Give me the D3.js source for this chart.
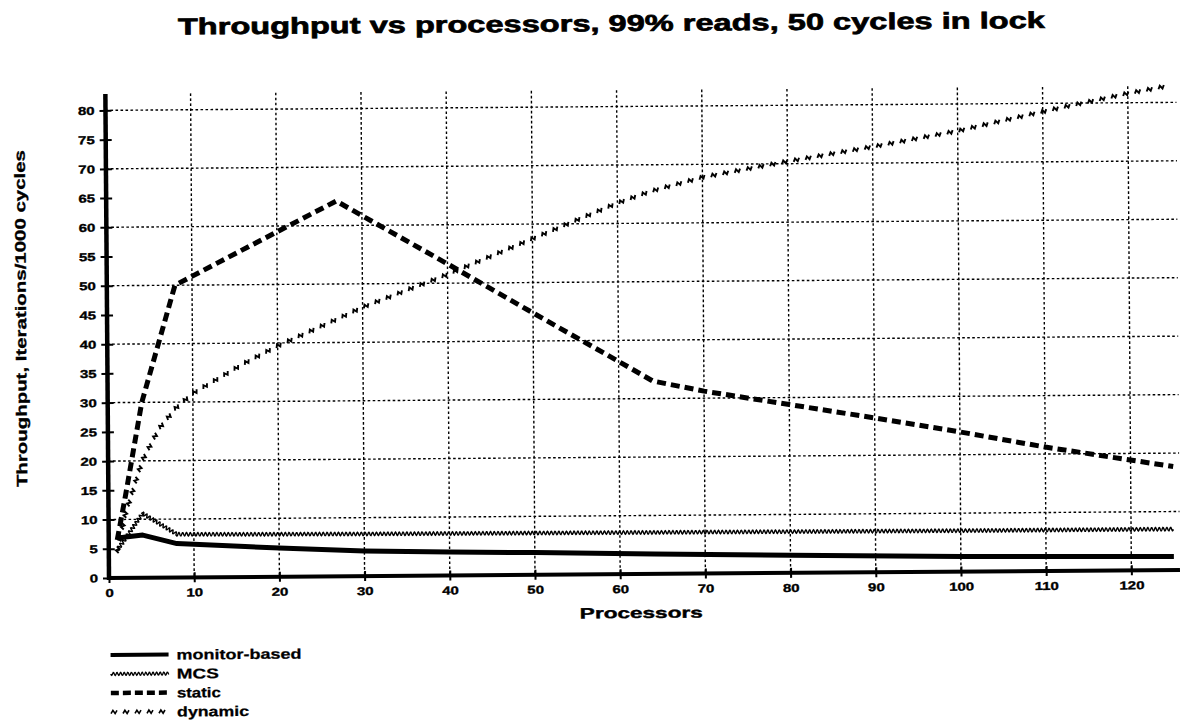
<!DOCTYPE html>
<html>
<head>
<meta charset="utf-8">
<script src="https://cdn.jsdelivr.net/npm/d3@7/dist/d3.min.js"></script>
<style>
  html, body { margin: 0; padding: 0; background: #fff; }
  svg { display: block; }
  text { font-family: "Liberation Sans", Arial, Helvetica, sans-serif; font-weight: bold; fill: #000; }
</style>
</head>
<body>
<svg id="chart" width="1180" height="726"></svg>
<script>
// ---------------- data ----------------
const titleText = "Throughput vs processors, 99% reads, 50 cycles in lock";
const xLabel = "Processors";
const yLabel = "Throughput, Iterations/1000 cycles";
const xTicks = [0, 10, 20, 30, 40, 50, 60, 70, 80, 90, 100, 110, 120];
const yTicks = [0, 5, 10, 15, 20, 25, 30, 35, 40, 45, 50, 55, 60, 65, 70, 75, 80];
const gridX = [10, 20, 30, 40, 50, 60, 70, 80, 90, 100, 110, 120];
const gridY = [10, 20, 30, 40, 50, 60, 70, 80];
const seriesNames = ["monitor-based", "MCS", "static", "dynamic"];

const monitorProcs = [1, 2, 4, 8, 16, 20, 30, 40, 50, 64, 80, 100, 125];
const monitorVals  = [6.8, 7.0, 7.3, 5.8, 5.2, 4.9, 4.3, 4.0, 3.8, 3.4, 3.0, 2.6, 2.3];

const mcsProcs = [1, 2, 4, 8, 16, 32, 64, 100, 125];
const mcsVals  = [4.8, 6.8, 11.0, 7.4, 7.3, 7.2, 7.1, 7.0, 7.0];

const staticProcs = [1, 2, 4, 8, 16, 27, 32, 40, 50, 60, 64, 70, 80, 90, 100, 110, 125];
const staticVals  = [6.5, 14, 30, 50, 56, 64.2, 60, 53.3, 44.8, 36.4, 33.0, 31.2, 28.8, 26.4, 23.9, 21.2, 17.7];

const dynamicProcs = [1, 2, 4, 6, 8, 10, 16, 20, 27, 30, 40, 50, 60, 64, 70, 80, 90, 100, 110, 120, 125];
const dynamicVals  = [4.5, 11, 20, 25.5, 29, 31.5, 36.5, 39.5, 44, 46, 51.5, 57.5, 63.5, 65.5, 67.8, 70.4, 72.8, 75.4, 78.6, 81.6, 82.9];

// ---------------- setup ----------------
const svg = d3.select("#chart");
svg.append("rect").attr("width", 1180).attr("height", 726).attr("fill", "#fff");

const x = d3.scaleLinear().domain([0, 125]).range([109, 1174]);
const y = d3.scaleLinear().domain([0, 82.8]).range([578, 94]);

// the scanned page is slightly rotated
const root = svg.append("g").attr("transform", "rotate(-0.43, 109, 578)");

// ---------------- grid ----------------
const grid = root.append("g");
grid.selectAll("line.gx").data(gridX).join("line")
  .attr("x1", d => x(d)).attr("x2", d => x(d))
  .attr("y1", y(82.8)).attr("y2", y(0))
  .attr("stroke", "#000").attr("stroke-width", 1.4).attr("stroke-dasharray", "2.6,2.4");
grid.selectAll("line.gy").data(gridY).join("line")
  .attr("x1", x(0)).attr("x2", 1180)
  .attr("y1", d => y(d)).attr("y2", d => y(d))
  .attr("stroke", "#000").attr("stroke-width", 1.4).attr("stroke-dasharray", "2.6,2.4");

// ---------------- axes ----------------
const sx = 1.3;
const xAxis = root.append("g").attr("transform", `translate(0,${y(0)})`)
  .call(d3.axisBottom(x).tickValues(xTicks).tickSize(5).tickSizeOuter(0).tickFormat(d3.format("d")));
xAxis.select(".domain").remove();
xAxis.selectAll(".tick line").attr("y1", -5).attr("y2", 5).attr("stroke", "#000").attr("stroke-width", 2);
xAxis.selectAll(".tick text")
  .attr("y", 19).attr("dy", 0).attr("x", 0)
  .attr("transform", `scale(${sx},1)`)
  .style("font-size", "11.5px").style("font-weight", "bold")
  .attr("fill", "#000").attr("stroke", "#000").attr("stroke-width", 0.35);
root.append("line").attr("x1", x(0) - 2).attr("x2", 1180)
  .attr("y1", y(0)).attr("y2", y(0)).attr("stroke", "#000").attr("stroke-width", 4);

const yAxis = root.append("g").attr("transform", `translate(${x(0)},0)`)
  .call(d3.axisLeft(y).tickValues(yTicks).tickSize(6).tickSizeOuter(0).tickFormat(d3.format("d")));
yAxis.select(".domain").remove();
yAxis.selectAll(".tick line").attr("x1", 6).attr("x2", -6).attr("stroke", "#000").attr("stroke-width", 2);
yAxis.selectAll(".tick text")
  .attr("x", -11 / sx).attr("dy", "0.34em")
  .attr("transform", `scale(${sx},1)`)
  .style("font-size", "11.5px").style("font-weight", "bold")
  .attr("fill", "#000").attr("stroke", "#000").attr("stroke-width", 0.35);
root.append("line").attr("x1", x(0)).attr("x2", x(0))
  .attr("y1", y(82.8)).attr("y2", y(0) + 2).attr("stroke", "#000").attr("stroke-width", 4.5);

// ---------------- helpers ----------------
function toPts(xs, vs) { return xs.map((p, i) => [x(p), y(vs[i])]); }

function wavyPath(pts, amp, period) {
  let segs = [], total = 0;
  for (let i = 1; i < pts.length; i++) {
    const dx = pts[i][0] - pts[i-1][0], dy = pts[i][1] - pts[i-1][1];
    const len = Math.hypot(dx, dy);
    segs.push({p: pts[i-1], dx, dy, len, start: total});
    total += len;
  }
  const out = [];
  const step = 0.5;
  let si = 0;
  for (let s = 0; s <= total; s += step) {
    while (si < segs.length - 1 && s > segs[si].start + segs[si].len) si++;
    const sg = segs[si];
    const t = sg.len ? (s - sg.start) / sg.len : 0;
    const ux = sg.dx / sg.len, uy = sg.dy / sg.len;
    const off = amp * Math.sin(2 * Math.PI * s / period);
    out.push([sg.p[0] + sg.dx * t - uy * off, sg.p[1] + sg.dy * t + ux * off]);
  }
  return "M" + out.map(p => p[0].toFixed(2) + "," + p[1].toFixed(2)).join("L");
}

function samplesAlong(pts, spacing, offset) {
  let res = [], acc = offset;
  for (let i = 1; i < pts.length; i++) {
    const dx = pts[i][0] - pts[i-1][0], dy = pts[i][1] - pts[i-1][1];
    const len = Math.hypot(dx, dy);
    let d = acc;
    while (d <= len) {
      res.push({x: pts[i-1][0] + dx * d / len, y: pts[i-1][1] + dy * d / len, a: Math.atan2(dy, dx) * 180 / Math.PI});
      d += spacing;
    }
    acc = d - len;
  }
  return res;
}
const markPath = "M-3,1.6L-1.1,-1.6L1.1,1.6L3,-1.6";

const line = d3.line().x(d => x(d[0])).y(d => y(d[1]));

// ---------------- series ----------------
const plot = root.append("g");

// monitor-based : thick solid
plot.append("path")
  .datum(monitorProcs.map((p, i) => [p, monitorVals[i]]))
  .attr("d", line).attr("fill", "none").attr("stroke", "#000")
  .attr("stroke-width", 5).attr("stroke-linejoin", "round");

// MCS : wavy
plot.append("path")
  .attr("d", wavyPath(toPts(mcsProcs, mcsVals), 1.7, 3.8))
  .attr("fill", "none").attr("stroke", "#000").attr("stroke-width", 1.4);

// static : thick dashes
plot.append("path")
  .datum(staticProcs.map((p, i) => [p, staticVals[i]]))
  .attr("d", line).attr("fill", "none").attr("stroke", "#000")
  .attr("stroke-width", 5).attr("stroke-dasharray", "9,5").attr("stroke-linejoin", "round");

// dynamic : small zigzag marks
const dynMarks = samplesAlong(toPts(dynamicProcs, dynamicVals), 12, 2);
plot.selectAll("path.dm").data(dynMarks).join("path")
  .attr("d", markPath)
  .attr("transform", d => `translate(${d.x},${d.y}) rotate(${d.a})`)
  .attr("fill", "none").attr("stroke", "#000").attr("stroke-width", 1.9);

// ---------------- titles ----------------
root.append("text").attr("x", 182).attr("y", 35)
  .attr("textLength", 867).attr("lengthAdjust", "spacingAndGlyphs")
  .attr("stroke", "#000").attr("stroke-width", 0.7)
  .style("font-size", "23px").text(titleText);

root.append("text").attr("transform", "translate(28,318) rotate(-90)")
  .attr("text-anchor", "middle").attr("textLength", 337).attr("lengthAdjust", "spacingAndGlyphs")
  .attr("stroke", "#000").attr("stroke-width", 0.3)
  .style("font-size", "15px").text(yLabel);

root.append("text").attr("x", 641).attr("y", 622)
  .attr("text-anchor", "middle").attr("textLength", 123).attr("lengthAdjust", "spacingAndGlyphs")
  .attr("stroke", "#000").attr("stroke-width", 0.4)
  .style("font-size", "15px").text(xLabel);

// ---------------- legend ----------------
const leg = root.append("g");
const legY = [655, 674, 693, 712];
const lx0 = 110, lx1 = 168;
leg.append("line").attr("x1", lx0).attr("x2", lx1).attr("y1", legY[0]).attr("y2", legY[0])
  .attr("stroke", "#000").attr("stroke-width", 4);
leg.append("path").attr("d", wavyPath([[lx0, legY[1]], [lx1, legY[1]]], 1.5, 3.6))
  .attr("fill", "none").attr("stroke", "#000").attr("stroke-width", 1.3);
leg.append("line").attr("x1", lx0).attr("x2", lx1).attr("y1", legY[2]).attr("y2", legY[2])
  .attr("stroke", "#000").attr("stroke-width", 4.5).attr("stroke-dasharray", "8,4");
leg.selectAll("path.lm").data(samplesAlong([[lx0, legY[3]], [lx1, legY[3]]], 12, 3)).join("path")
  .attr("d", markPath).attr("transform", d => `translate(${d.x},${d.y})`)
  .attr("fill", "none").attr("stroke", "#000").attr("stroke-width", 1.6);
const legLen = [125, 42, 44, 72];
leg.selectAll("text").data(seriesNames).join("text")
  .attr("x", 176).attr("y", (d, i) => legY[i] + 5)
  .attr("textLength", (d, i) => legLen[i]).attr("lengthAdjust", "spacingAndGlyphs")
  .attr("stroke", "#000").attr("stroke-width", 0.25)
  .style("font-size", "14px").text(d => d);
</script>
</body>
</html>
